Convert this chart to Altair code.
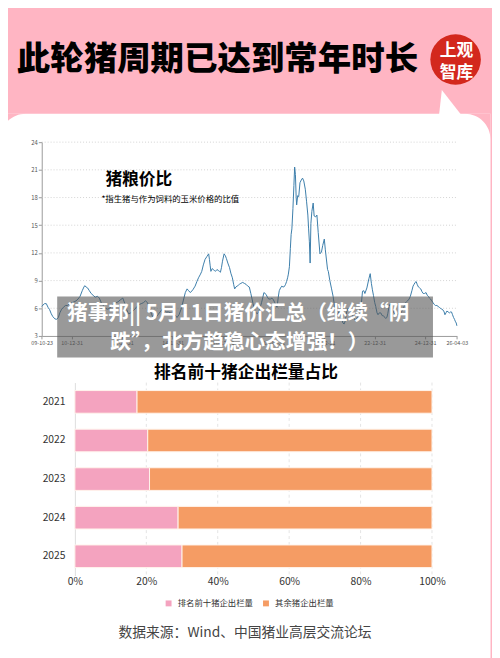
import altair as alt
import pandas as pd

# ---------------- texts ----------------
TITLE = "此轮猪周期已达到常年时长"
LOGO_1 = "上观"
LOGO_2 = "智库"
LINE_TITLE = "猪粮价比"
LINE_NOTE = "*指生猪与作为饲料的玉米价格的比值"
BAR_TITLE = "排名前十猪企出栏量占比"
SOURCE = "数据来源：Wind、中国猪业高层交流论坛"
BANNER_1 = "猪事邦|| 5月11日猪价汇总（继续“阴"
BANNER_2 = "跌”，北方趋稳心态增强！）"

# ---------------- line chart data (猪粮价比) ----------------
DATES = [
    "2009-10-23", "2009-12-01", "2009-12-28", "2010-01-22", "2010-02-14", "2010-03-10",
    "2010-04-01", "2010-05-01", "2010-05-26", "2010-06-20", "2010-07-12", "2010-08-07",
    "2010-09-01", "2010-10-01", "2010-11-01", "2010-12-01", "2011-01-01", "2011-02-03",
    "2011-03-03", "2011-04-01", "2011-05-01", "2011-06-01", "2011-06-25", "2011-07-08",
    "2011-07-27", "2011-08-18", "2011-09-12", "2011-10-08", "2011-11-06", "2011-12-06",
    "2012-01-08", "2012-02-03", "2012-03-03", "2012-04-01", "2012-05-01", "2012-06-01",
    "2012-07-01", "2012-08-01", "2012-09-01", "2012-10-01", "2012-11-01", "2012-12-01",
    "2013-01-08", "2013-02-06", "2013-03-03", "2013-04-01", "2013-05-01", "2013-06-01",
    "2013-07-01", "2013-08-01", "2013-09-01", "2013-10-01", "2013-11-01", "2013-12-01",
    "2014-01-01", "2014-02-01", "2014-03-03", "2014-04-01", "2014-05-01", "2014-06-01",
    "2014-07-01", "2014-08-01", "2014-09-01", "2014-10-01", "2014-11-01", "2014-12-01",
    "2015-01-01", "2015-02-01", "2015-03-03", "2015-04-01", "2015-05-01", "2015-06-01",
    "2015-07-01", "2015-07-27", "2015-08-18", "2015-09-12", "2015-10-18", "2015-11-20",
    "2015-12-16", "2016-01-08", "2016-02-06", "2016-02-24", "2016-03-18", "2016-04-12",
    "2016-05-08", "2016-06-03", "2016-06-14", "2016-06-25", "2016-07-05", "2016-07-24",
    "2016-08-07", "2016-08-25", "2016-09-09", "2016-10-01", "2016-10-19", "2016-11-06",
    "2016-11-20", "2016-12-05", "2016-12-20", "2017-01-12", "2017-01-30", "2017-02-14",
    "2017-03-07", "2017-04-01", "2017-04-20", "2017-05-12", "2017-05-30", "2017-06-14",
    "2017-07-01", "2017-07-20", "2017-08-07", "2017-08-22", "2017-09-12", "2017-10-08",
    "2017-11-01", "2017-11-25", "2017-12-20", "2018-01-12", "2018-02-03", "2018-02-21",
    "2018-03-07", "2018-03-25", "2018-04-12", "2018-05-05", "2018-05-27", "2018-06-18",
    "2018-07-08", "2018-07-27", "2018-08-11", "2018-08-29", "2018-09-12", "2018-10-01",
    "2018-10-19", "2018-11-13", "2018-12-06", "2018-12-28", "2019-01-15", "2019-02-03",
    "2019-02-17", "2019-03-07", "2019-03-21", "2019-04-09", "2019-04-27", "2019-05-15",
    "2019-06-03", "2019-06-21", "2019-07-05", "2019-07-20", "2019-07-31", "2019-08-15",
    "2019-08-29", "2019-09-09", "2019-09-20", "2019-10-05", "2019-10-19", "2019-10-30",
    "2019-11-10", "2019-11-21", "2019-11-28", "2019-12-13", "2019-12-28", "2020-01-15",
    "2020-02-03", "2020-02-21", "2020-03-10", "2020-04-01", "2020-04-19", "2020-05-08",
    "2020-05-19", "2020-05-30", "2020-06-10", "2020-06-21", "2020-07-05", "2020-07-24",
    "2020-08-07", "2020-08-29", "2020-09-16", "2020-10-05", "2020-10-30", "2020-11-21",
    "2020-12-09", "2021-01-01", "2021-01-15", "2021-02-17", "2021-02-28", "2021-03-22",
    "2021-04-16", "2021-05-08", "2021-06-03", "2021-06-25", "2021-07-12", "2021-07-27",
    "2021-08-25", "2021-09-12", "2021-09-27", "2021-10-15", "2021-10-30", "2021-11-21",
    "2021-12-09", "2022-01-15", "2022-02-17", "2022-03-22", "2022-04-19", "2022-05-22",
    "2022-06-18", "2022-07-08", "2022-07-27", "2022-08-11", "2022-09-09", "2022-10-08",
    "2022-10-27", "2022-11-13", "2022-11-28", "2022-12-13", "2023-01-01", "2023-01-15",
    "2023-02-03", "2023-02-17", "2023-03-07", "2023-03-29", "2023-04-19", "2023-05-05",
    "2023-06-07", "2023-06-25", "2023-07-08", "2023-07-27", "2023-08-15", "2023-09-01",
    "2023-09-16", "2023-10-05", "2023-10-27", "2023-11-28", "2023-12-16", "2024-01-05",
    "2024-01-23", "2024-02-06", "2024-02-24", "2024-03-18", "2024-04-05", "2024-04-19",
    "2024-05-12", "2024-05-30", "2024-06-21", "2024-07-08", "2024-07-23", "2024-08-07",
    "2024-08-22", "2024-09-05", "2024-09-24", "2024-10-12", "2024-10-27", "2024-11-14",
    "2024-12-02", "2024-12-20", "2025-01-12", "2025-01-30", "2025-02-14", "2025-03-03",
    "2025-03-18", "2025-04-05", "2025-04-23", "2025-05-12", "2025-05-27", "2025-06-18",
    "2025-07-05", "2025-07-23", "2025-08-07", "2025-08-29", "2025-09-16", "2025-10-01",
    "2025-10-12", "2025-10-27", "2025-11-10", "2025-11-28", "2025-12-16", "2026-01-01",
    "2026-01-15", "2026-01-30", "2026-02-14", "2026-02-28", "2026-03-10", "2026-03-25",
    "2026-04-03",
]
RATIOS = [
    6.2, 6.5, 6.5, 6.1, 5.85, 5.4,
    5.1, 4.85, 4.8, 5.0, 5.5, 5.9,
    6.1, 6.3, 6.3, 6.5, 6.6, 6.7,
    6.8, 7.0, 7.3, 7.9, 8.3, 8.45,
    8.3, 8.2, 7.9, 7.6, 7.4, 7.2,
    7.3, 7.1, 6.6, 6.3, 6.0, 5.9,
    6.0, 6.3, 6.5, 6.6, 6.7, 6.9,
    7.1, 6.5, 5.9, 5.4, 5.5, 5.7,
    5.9, 6.2, 6.4, 6.5, 6.6, 6.8,
    6.6, 5.9, 5.3, 4.8, 5.0, 5.3,
    5.6, 5.9, 5.8, 5.6, 5.6, 5.5,
    5.4, 5.3, 5.0, 5.3, 5.9, 6.8,
    7.7, 8.1, 7.9, 7.7, 8.0, 8.4,
    8.9, 9.3, 9.7, 10.0, 10.7, 11.3,
    11.6, 11.9, 11.3, 10.6, 10.0, 10.3,
    10.2, 10.1, 10.0, 10.2, 10.1, 10.0,
    9.9, 10.4, 11.1, 11.9, 11.7, 11.4,
    10.9, 10.4, 9.8, 9.3, 8.6, 8.1,
    8.3, 8.4, 8.5, 8.6, 8.7, 8.8,
    8.7, 8.6, 8.4, 8.3, 7.6, 7.0,
    6.5, 6.0, 5.6, 5.4, 5.6, 6.1,
    6.6, 7.2, 7.7, 7.6, 7.5, 7.2,
    7.0, 7.0, 7.1, 6.9, 6.6, 6.3,
    6.1, 7.2, 7.9, 8.2, 8.4, 8.3,
    8.35, 8.6, 8.9, 9.3, 9.7, 10.5,
    12.5, 14.0, 14.6, 16.8, 19.3, 21.3,
    20.5, 18.0, 17.2, 18.2, 18.1, 19.6,
    19.9, 20.1, 19.8, 18.9, 17.6, 16.1,
    14.6, 13.2, 10.9, 15.2, 16.5, 17.4,
    16.0, 15.9, 16.1, 14.2, 11.9, 12.1,
    12.8, 13.5, 12.4, 10.2, 10.0, 9.0,
    8.1, 7.3, 6.0, 5.0, 5.4, 5.6,
    5.5, 4.9, 4.4, 4.3, 4.6, 5.6,
    6.0, 5.8, 5.2, 4.7, 4.9, 5.6,
    6.3, 7.85, 7.9, 7.6, 8.2, 9.2,
    9.75, 8.7, 8.0, 7.4, 6.6, 6.2,
    5.5, 5.3, 5.5, 5.5, 5.2, 5.2,
    4.9, 5.0, 5.4, 6.2, 6.5, 6.2,
    5.8, 5.5, 5.3, 5.3, 5.4, 5.4,
    5.6, 5.8, 6.1, 6.6, 6.7, 6.8,
    7.0, 7.3, 7.9, 8.4, 8.6, 8.8,
    8.9, 8.6, 8.3, 8.2, 8.1, 7.8,
    7.6, 7.6, 7.7, 7.4, 7.3, 7.1,
    7.0, 6.8, 6.6, 6.4, 6.3, 6.3,
    6.2, 6.1, 6.0, 5.9, 5.8, 5.6,
    5.3, 5.5, 5.7, 5.6, 5.5, 5.6,
    5.6, 5.3, 5.0, 4.8, 4.6, 4.4,
    4.1,
]
Y_TICKS = [3, 6, 9, 12, 15, 18, 21, 24]
X_TICK_DATES = [(2009, 10, 23), (2010, 12, 31), (2012, 12, 31), (2014, 12, 31),
                (2016, 12, 31), (2018, 12, 31), (2020, 12, 31), (2022, 12, 31),
                (2024, 12, 31), (2026, 4, 3)]
X_START = "2009-10-23"
X_END = "2026-04-03"

# ---------------- bar chart data ----------------
YEARS = ["2021", "2022", "2023", "2024", "2025"]
TOP10_PCT = [17.4, 20.4, 20.9, 28.9, 30.0]
SERIES = ["排名前十猪企出栏量", "其余猪企出栏量"]
COLORS = ["#F4A3BF", "#F59C64"]
PCT_TICKS = [0, 0.2, 0.4, 0.6, 0.8, 1.0]

FONT = "Noto Sans CJK SC"
PINK = "#FFB5C3"
W, H = 492, 650
M = 8  # page margin: reference pixel -> canvas pixel


def c(v):
    return v - M


one = pd.DataFrame({"k": [0]})

line_df = pd.DataFrame({"date": DATES, "ratio": RATIOS})
grid_df = pd.DataFrame({"v": Y_TICKS[1:], "d0": X_START, "d1": X_END})

rows = []
for yr, p in zip(YEARS, TOP10_PCT):
    rows.append({"year": yr, "series": SERIES[0], "pct": p / 100, "ord": 0})
    rows.append({"year": yr, "series": SERIES[1], "pct": (100 - p) / 100, "ord": 1})
bar_df = pd.DataFrame(rows)
bgrid_df = pd.DataFrame({"p": PCT_TICKS[1:]})

# ---------------- scales ----------------
x_line_scale = alt.Scale(
    domain=[alt.DateTime(year=2009, month=10, date=23), alt.DateTime(year=2026, month=4, date=3)],
    range=[c(42.3), c(464.3)], nice=False)
y_line_scale = alt.Scale(domain=[3, 24], range=[c(336), c(139)], zero=False, nice=False)
x_bar_scale = alt.Scale(domain=[0, 1], range=[c(76), c(439)], nice=False)
y_bar_scale = alt.Scale(domain=YEARS, range=[c(383.4), c(579.6)], paddingInner=0.414, paddingOuter=0.207)


def text_layer(txt, x, y, size, color="#000", weight="normal", align="left", font=FONT):
    return alt.Chart(one).mark_text(
        text=txt, fontSize=size, fontWeight=weight, color=color, align=align,
        baseline="middle", font=font
    ).encode(x=alt.value(x), y=alt.value(y))


def shape_layer(path, cx_, cy_, half, color):
    return alt.Chart(one).mark_point(
        shape=path, size=(2 * half) ** 2, filled=True, color=color, opacity=1, strokeWidth=0
    ).encode(x=alt.value(cx_), y=alt.value(cy_))


# ---------------- decoration (pink header over a white card) ----------------
R = 26
CARD_TOP = c(110)
CARD_RIGHT = c(498.5)
pink_top = alt.Chart(one).mark_rect(color=PINK).encode(
    x=alt.value(-M), x2=alt.value(W + 10), y=alt.value(-M), y2=alt.value(CARD_TOP))
pink_right = alt.Chart(one).mark_rect(color=PINK).encode(
    x=alt.value(CARD_RIGHT), x2=alt.value(W + 10), y=alt.value(CARD_TOP - 1), y2=alt.value(H + 10))
corner_left = shape_layer("M-1,-1L1,-1A2,2 0 0 0 -1,1Z", -M + R / 2, CARD_TOP + R / 2, R / 2, PINK)
corner_right = shape_layer("M-1,-1L1,-1L1,1A2,2 0 0 0 -1,-1Z", CARD_RIGHT - R / 2, CARD_TOP + R / 2, R / 2, PINK)
pointer = shape_layer("M-0.72,-1L-0.96,1.15L0.96,1.15Z", c(458), c(98.5), 12.5, "white")
title = text_layer(TITLE, c(17), c(56), 34, weight=900)
logo = alt.Chart(one).mark_circle(size=2640, color="#D3281D", opacity=1).encode(
    x=alt.value(c(463)), y=alt.value(c(55)))
logo1 = text_layer(LOGO_1, c(464), c(46), 17, color="white", weight="bold", align="center")
logo2 = text_layer(LOGO_2, c(464), c(69), 17, color="white", weight="bold", align="center")

# ---------------- line chart ----------------
line_grid = alt.Chart(grid_df).mark_rule(color="#c8c8c8", strokeDash=[1, 2], strokeWidth=0.8).encode(
    x=alt.X("d0:T", scale=x_line_scale, axis=None),
    x2="d1:T",
    y=alt.Y("v:Q", scale=y_line_scale, axis=None),
)
line = alt.Chart(line_df).mark_line(color="#3A7CA9", strokeWidth=1).encode(
    x=alt.X("date:T", scale=x_line_scale, title=None,
            axis=alt.Axis(orient="bottom", offset=c(336) - H,
                          values=[alt.DateTime(year=a, month=b, date=d) for a, b, d in X_TICK_DATES],
                          format="%y-%m-%d", labelFontSize=5.5, labelColor="#555",
                          tickSize=3, tickColor="#999", domainColor="#999", labelPadding=2,
                          grid=False, labelFlush=False, labelOverlap=False)),
    y=alt.Y("ratio:Q", scale=y_line_scale, title=None,
            axis=alt.Axis(orient="left", offset=-c(42.3), values=Y_TICKS, labelFontSize=6,
                          labelColor="#555", tickSize=3.5, tickColor="#999", domainColor="#999",
                          labelPadding=1, grid=False, labelFlush=False, labelOverlap=False)),
)
line_title = text_layer(LINE_TITLE, c(107), c(178), 17, weight="bold")
line_note = text_layer(LINE_NOTE, c(103), c(196.5), 8.5)

# ---------------- bar chart ----------------
bar_grid = alt.Chart(bgrid_df).mark_rule(color="#dddddd", strokeDash=[3, 3], strokeWidth=0.8).encode(
    x=alt.X("p:Q", scale=x_bar_scale, axis=None),
    y=alt.value(c(383.4)), y2=alt.value(c(579.6)),
)
bars = alt.Chart(bar_df).mark_bar(stroke="#FFF4EC", strokeWidth=1).encode(
    y=alt.Y("year:N", scale=y_bar_scale, sort=YEARS, title=None,
            axis=alt.Axis(orient="left", offset=-c(76), ticks=False, tickSize=0,
                          labelPadding=10, domainColor="#dddddd", labelFontSize=10.5,
                          labelColor="#333")),
    x=alt.X("pct:Q", stack="zero", scale=x_bar_scale, title=None,
            axis=alt.Axis(orient="bottom", offset=c(579) - H, values=PCT_TICKS,
                          format=".0%", domain=False, ticks=False, tickSize=0, labelPadding=2,
                          labelFontSize=10.5, labelColor="#333", grid=False,
                          labelFlush=False, labelOverlap=False)),
    color=alt.Color("series:N", scale=alt.Scale(domain=SERIES, range=COLORS),
                    legend=alt.Legend(orient="none", legendX=c(167), legendY=c(603.5),
                                      direction="horizontal", title=None, symbolType="square",
                                      symbolSize=36, symbolStrokeWidth=0, labelFontSize=8.5,
                                      labelColor="#333", labelOffset=5, columnPadding=8,
                                      padding=0)),
    order=alt.Order("ord:Q"),
)
bar_title = text_layer(BAR_TITLE, c(250), c(374), 17, weight="bold", align="center")
source = text_layer(SOURCE, c(249), c(638), 14, color="#444", align="center")

# ---------------- overlay banner ----------------
banner = alt.Chart(one).mark_rect(color="#555555", opacity=0.6).encode(
    x=alt.value(c(58)), x2=alt.value(c(440)), y=alt.value(c(296)), y2=alt.value(c(358)))
banner_text_1 = text_layer(BANNER_1, c(68), c(314), 21, color="white", weight="bold")
banner_text_2 = text_layer(BANNER_2, c(112), c(343), 21, color="white", weight="bold")

chart = alt.layer(
    pink_top, pink_right, corner_left, corner_right, pointer, title, logo, logo1, logo2,
    line_grid, line, line_title, line_note,
    bar_grid, bars, bar_title, source,
    banner, banner_text_1, banner_text_2,
).resolve_scale(
    x="independent", y="independent", color="independent"
).properties(
    width=W, height=H, padding=0, background="white",
    autosize=alt.AutoSizeParams(type="none"),
).configure(font=FONT).configure_view(stroke=None)

chart.save("out.html", embed_options={"renderer": "svg", "actions": False})
